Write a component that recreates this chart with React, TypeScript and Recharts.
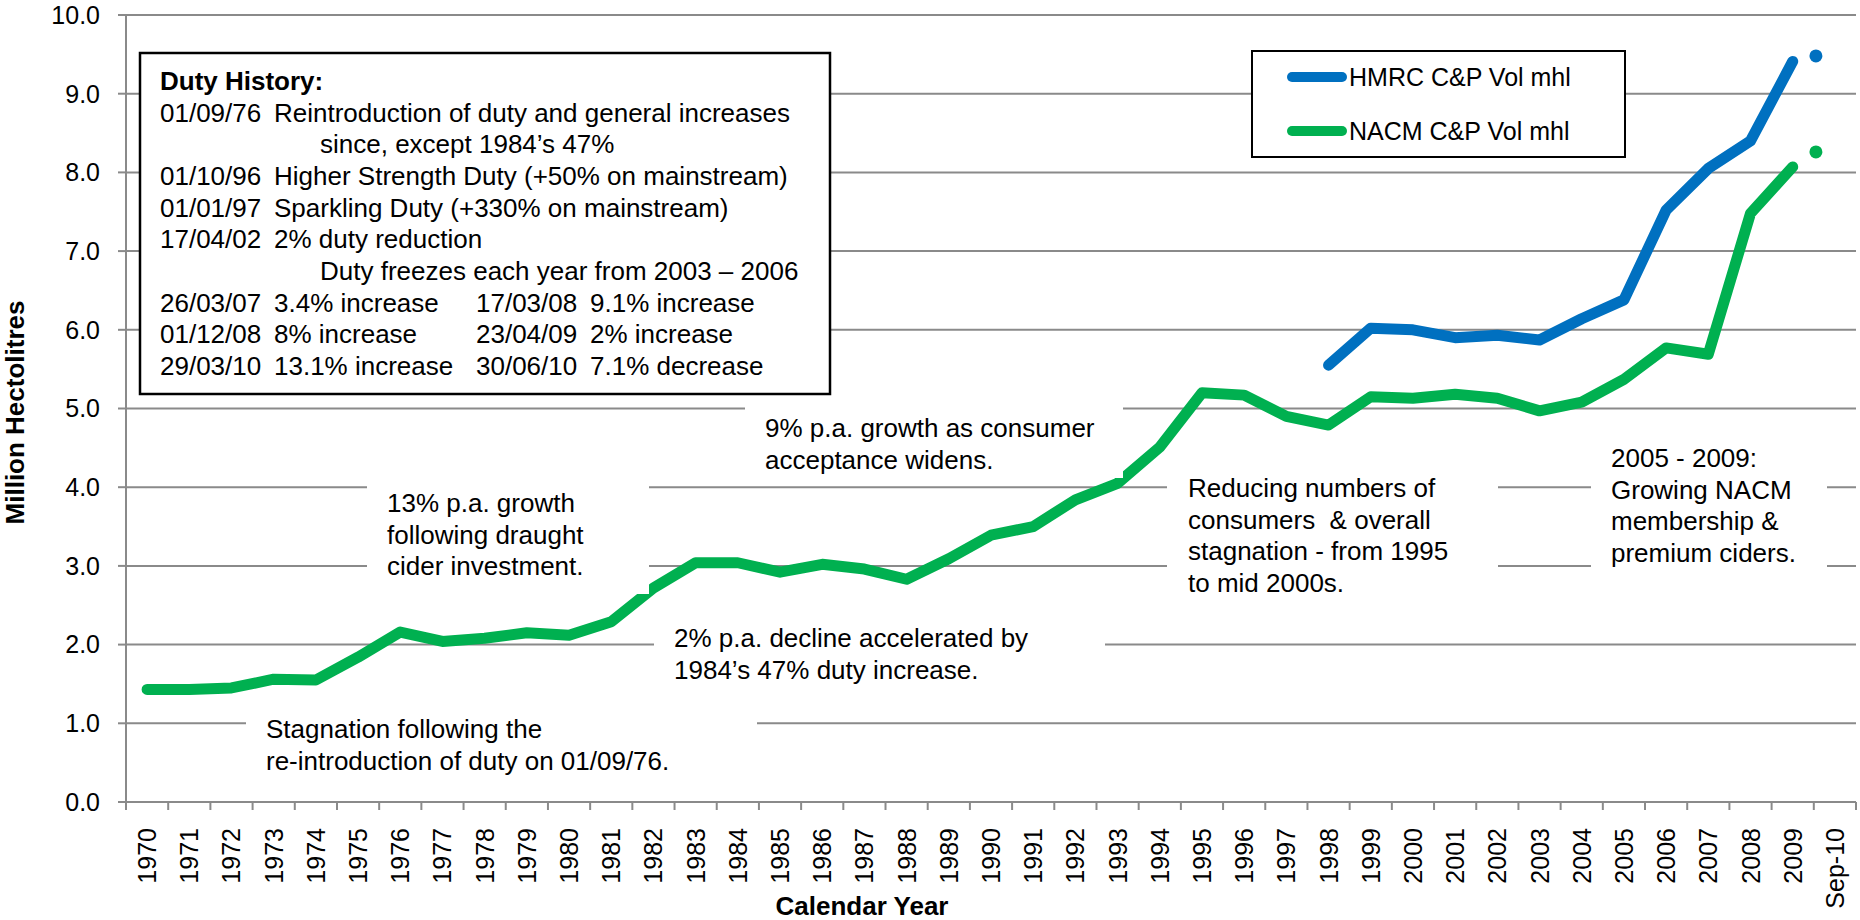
import React from 'react';
import { LineChart, Line, XAxis, YAxis, CartesianGrid, Legend } from 'recharts';

const categories = [
  '1970', '1971', '1972', '1973', '1974', '1975', '1976', '1977', '1978', '1979',
  '1980', '1981', '1982', '1983', '1984', '1985', '1986', '1987', '1988', '1989',
  '1990', '1991', '1992', '1993', '1994', '1995', '1996', '1997', '1998', '1999',
  '2000', '2001', '2002', '2003', '2004', '2005', '2006', '2007', '2008', '2009',
  'Sep-10',
];

// million hectolitres, 1970 - 2009
const nacmVol = [
  1.43, 1.43, 1.45, 1.56, 1.55, 1.84, 2.16, 2.04, 2.08, 2.15,
  2.12, 2.29, 2.72, 3.04, 3.04, 2.92, 3.02, 2.96, 2.83, 3.09,
  3.39, 3.5, 3.84, 4.05, 4.51, 5.2, 5.17, 4.9, 4.79, 5.15,
  5.13, 5.18, 5.13, 4.97, 5.08, 5.37, 5.77, 5.69, 7.48, 8.07,
];

const hmrcVol = [
  null, null, null, null, null, null, null, null, null, null,
  null, null, null, null, null, null, null, null, null, null,
  null, null, null, null, null, null, null, null, 5.55, 6.02,
  6.0, 5.9, 5.93, 5.87, 6.14, 6.38, 7.52, 8.05, 8.4, 9.41,
];

// Sep-10 figures are drawn as lone dots, a bit left of their label
const nacmSep10 = 8.26;
const hmrcSep10 = 9.48;
const sep10Pos = 39.55;

const yTicks = [0, 1, 2, 3, 4, 5, 6, 7, 8, 9, 10];

const chartData: any[] = nacmVol.map((v, i) => ({ pos: i, nacm: v, hmrc: hmrcVol[i] }));
chartData.push({ pos: sep10Pos, nacmSep: nacmSep10, hmrcSep: hmrcSep10 });

const FONT = '"Liberation Sans", Arial, Helvetica, sans-serif';
const GRID = '#8a8a8a';
const BLUE = '#0070C0';
const GREEN = '#00B050';

const W = 1860;
const H = 920;
const PLOT_LEFT = 126;
const PLOT_RIGHT = 1856;
const PLOT_TOP = 15;
const PLOT_BOTTOM = 802;
const BAND = (PLOT_RIGHT - PLOT_LEFT) / categories.length;

function YearTick(props: any) {
  const { x, payload } = props;
  const i = payload.value;
  const ty = PLOT_BOTTOM + 26;
  return (
    <g>
      <line x1={x - BAND / 2} x2={x - BAND / 2} y1={PLOT_BOTTOM} y2={PLOT_BOTTOM + 8} stroke={GRID} strokeWidth={2} />
      {i === categories.length - 1 && (
        <line x1={x + BAND / 2} x2={x + BAND / 2} y1={PLOT_BOTTOM} y2={PLOT_BOTTOM + 8} stroke={GRID} strokeWidth={2} />
      )}
      <text
        x={x}
        y={ty}
        transform={`rotate(-90 ${x} ${ty})`}
        textAnchor="end"
        dominantBaseline="central"
        fontSize={25}
        fontFamily={FONT}
        fill="#000"
      >
        {categories[i]}
      </text>
    </g>
  );
}

function LegendBox({ payload }: any) {
  const items = (payload || []).filter(
    (p: any) => p.type !== 'none' && !String(p.dataKey).endsWith('Sep')
  );
  return (
    <div
      style={{
        boxSizing: 'border-box',
        width: 375,
        height: 108,
        border: '2px solid #000',
        background: '#fff',
        paddingTop: 10,
        fontFamily: FONT,
      }}
    >
      {items.map((p: any) => (
        <div key={p.value} style={{ display: 'flex', alignItems: 'center', height: 30, marginBottom: 24, marginLeft: 34 }}>
          <span style={{ display: 'inline-block', width: 60, height: 10, borderRadius: 5, background: p.color }} />
          <span style={{ fontSize: 25, lineHeight: '30px', color: '#000', marginLeft: 2, whiteSpace: 'nowrap' }}>{p.value}</span>
        </div>
      ))}
    </div>
  );
}

const notes = [
  { box: [246, 700, 511, 90], x: 266, y: 738, lines: ['Stagnation following the', 're-introduction of duty on 01/09/76.'] },
  { box: [367, 470, 282, 124], x: 387, y: 512, lines: ['13% p.a. growth', 'following draught', 'cider investment.'] },
  { box: [745, 395, 378, 83], x: 765, y: 437, lines: ['9% p.a. growth as consumer', 'acceptance widens.'] },
  { box: [654, 605, 451, 95], x: 674, y: 647, lines: ['2% p.a. decline accelerated by', '1984\u2019s 47% duty increase.'] },
  { box: [1167, 465, 331, 140], x: 1188, y: 497, lines: ['Reducing numbers of', 'consumers  & overall', 'stagnation - from 1995', 'to mid 2000s.'] },
  { box: [1591, 430, 236, 150], x: 1611, y: 467, lines: ['2005 - 2009:', 'Growing NACM', 'membership &', 'premium ciders.'] },
];

const duty: [string, string, string?, string?][] = [
  ['01/09/76', 'Reintroduction of duty and general increases'],
  ['', 'since, except 1984\u2019s 47%'],
  ['01/10/96', 'Higher Strength Duty (+50% on mainstream)'],
  ['01/01/97', 'Sparkling Duty (+330% on mainstream)'],
  ['17/04/02', '2% duty reduction'],
  ['', 'Duty freezes each year from 2003 \u2013 2006'],
  ['26/03/07', '3.4% increase', '17/03/08', '9.1% increase'],
  ['01/12/08', '8% increase', '23/04/09', '2% increase'],
  ['29/03/10', '13.1% increase', '30/06/10', '7.1% decrease'],
];

const LH = 31.65;

function Overlay() {
  const midY = (PLOT_TOP + PLOT_BOTTOM) / 2 + 4;
  return (
    <svg
      width={W}
      height={H}
      style={{ position: 'absolute', left: 0, top: 0, pointerEvents: 'none' }}
      fontFamily={FONT}
    >
      {notes.map((n, k) => (
        <g key={k}>
          <rect x={n.box[0]} y={n.box[1]} width={n.box[2]} height={n.box[3]} fill="#fff" />
          {n.lines.map((t, j) => (
            <text key={j} x={n.x} y={n.y + j * LH} fontSize={26} fill="#000" style={{ whiteSpace: 'pre' }}>
              {t}
            </text>
          ))}
        </g>
      ))}

      <rect x={140} y={53} width={690} height={341} fill="#fff" stroke="#000" strokeWidth={2.5} />
      <text x={160} y={90} fontSize={26} fontWeight="bold" fill="#000">Duty History:</text>
      {duty.map((row, j) => {
        const y = 90 + (j + 1) * LH;
        const indented = row[0] === '';
        return (
          <g key={j} fontSize={26} fill="#000">
            {!indented && <text x={160} y={y}>{row[0]}</text>}
            <text x={indented ? 320 : 274} y={y}>{row[1]}</text>
            {row[2] && <text x={476} y={y}>{row[2]}</text>}
            {row[3] && <text x={590} y={y}>{row[3]}</text>}
          </g>
        );
      })}

      <text
        x={24}
        y={midY}
        transform={`rotate(-90 24 ${midY})`}
        textAnchor="middle"
        fontSize={26}
        fontWeight="bold"
        fill="#000"
      >
        Million Hectolitres
      </text>
      <text x={862} y={915} textAnchor="middle" fontSize={26} fontWeight="bold" fill="#000">
        Calendar Year
      </text>
    </svg>
  );
}

export default function App() {
  return (
    <div style={{ position: 'absolute', left: 0, top: 0, width: W, height: H, background: '#fff', fontFamily: FONT }}>
      <LineChart
        width={W}
        height={H}
        data={chartData}
        margin={{ top: PLOT_TOP, right: W - PLOT_RIGHT, left: 0, bottom: 0 }}
      >
        <CartesianGrid horizontal vertical={false} stroke={GRID} strokeWidth={2} />
        <XAxis
          type="number"
          dataKey="pos"
          domain={[-0.5, categories.length - 0.5]}
          ticks={categories.map((_, i) => i)}
          interval={0}
          allowDataOverflow
          height={H - PLOT_BOTTOM}
          tickSize={8}
          tickMargin={18}
          tickLine={false}
          axisLine={{ stroke: GRID, strokeWidth: 2 }}
          tick={(p: any) => <YearTick {...p} />}
        />
        <YAxis
          type="number"
          domain={[0, 10]}
          ticks={yTicks}
          interval={0}
          width={PLOT_LEFT}
          tickSize={8}
          tickMargin={18}
          tickFormatter={(v: number) => v.toFixed(1)}
          tick={{ fontSize: 25, fill: '#000', fontFamily: FONT }}
          axisLine={{ stroke: GRID, strokeWidth: 2 }}
          tickLine={{ stroke: GRID, strokeWidth: 2 }}
        />
        <Line
          dataKey="hmrc"
          name="HMRC C&P Vol mhl"
          stroke={BLUE}
          strokeWidth={11}
          strokeLinecap="round"
          strokeLinejoin="round"
          dot={false}
          activeDot={false}
          isAnimationActive={false}
        />
        <Line
          dataKey="nacm"
          name="NACM C&P Vol mhl"
          stroke={GREEN}
          strokeWidth={11}
          strokeLinecap="round"
          strokeLinejoin="round"
          dot={false}
          activeDot={false}
          isAnimationActive={false}
        />
        <Line
          dataKey="hmrcSep"
          legendType="none"
          stroke="none"
          dot={{ r: 6.5, fill: BLUE, stroke: 'none' }}
          activeDot={false}
          isAnimationActive={false}
        />
        <Line
          dataKey="nacmSep"
          legendType="none"
          stroke="none"
          dot={{ r: 6.5, fill: GREEN, stroke: 'none' }}
          activeDot={false}
          isAnimationActive={false}
        />
        <Legend
          layout="vertical"
          align="center"
          verticalAlign="middle"
          content={(p: any) => <LegendBox {...p} />}
          wrapperStyle={{ left: 1251, top: 50, width: 375, height: 108 }}
        />
      </LineChart>
      <Overlay />
    </div>
  );
}
